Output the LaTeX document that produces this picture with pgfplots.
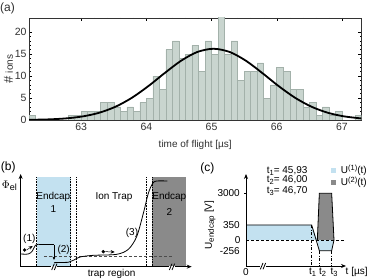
\documentclass[border=0pt]{standalone}
\usepackage{pgfplots}
\pgfplotsset{compat=1.18}
\usepackage{fontspec}
\setmainfont{Liberation Sans}
\usetikzlibrary{arrows.meta}
\definecolor{barfill}{HTML}{C9D5CF}
\definecolor{baredge}{HTML}{A3B1AA}
\definecolor{lblue}{HTML}{C3E1F0}
\definecolor{dgray}{HTML}{8A8A8A}
\definecolor{txt}{HTML}{303030}
\pgfplotsset{panel/.style={scale only axis,hide axis,clip=false,y dir=reverse,xmin=0,ymin=0,ymax=390,anchor=south west,
  every node/.append style={text=txt,font=\fontsize{10}{11}\selectfont,inner sep=0pt}}}
\begin{document}
\begin{tikzpicture}[x=1pt,y=1pt]
\path[use as bounding box] (0pt,0pt) rectangle (370pt,280pt);
\node[anchor=west,inner sep=0pt,text=txt,font=\fontsize{12}{13}\selectfont] at (0pt,272pt) {(a)};
\begin{axis}[at={(29pt,160pt)},anchor=south west,scale only axis,width=332.5pt,height=102pt,
  xmin=62.2,xmax=67.3,ymin=0,ymax=23.2,
  xtick={63,64,65,66,67},ytick={0,5,10,15,20},
  minor x tick num=4,minor y tick num=4,
  tick align=inside,major tick length=3pt,minor tick length=1.5pt,
  tick style={color=black,line width=0.4pt},
  axis line style={color=black!80,line width=0.6pt},
  /pgf/number format/assume math mode=true,
  ticklabel style={font=\fontsize{10.5}{11}\selectfont,text=txt},
  xticklabel shift=0pt,yticklabel shift=-1pt,
  xlabel={time of flight [µs]},ylabel={{\fontsize{13}{13}\selectfont\#} ions},
  label style={font=\fontsize{10}{11}\selectfont,text=txt},
  xlabel shift=2pt,ylabel shift=-5pt]
\addplot[ybar,bar width=0.1,bar shift=0pt,fill=barfill,draw=baredge,line width=0.5pt] coordinates {
(62.25,1)(62.85,1)(62.95,1)(63.05,2)(63.15,2)(63.25,2)(63.35,4)(63.45,4)(63.55,3)(63.65,2)(63.75,3)(63.85,2)(63.95,4)(64.05,5)(64.15,10)(64.25,7)(64.35,16)(64.45,18)(64.55,14)(64.65,15)(64.75,17)(64.85,11)(64.95,18)(65.05,15)(65.15,24)(65.25,15)(65.35,18)(65.45,9)(65.55,11)(65.65,11)(65.75,13)(65.85,5)(65.95,8)(66.05,12)(66.15,11)(66.25,7)(66.35,7)(66.45,3)(66.55,4)(66.65,1)(66.75,3)(66.85,1)(66.95,2)(67.25,1)};
\addplot[black,line width=1.8pt,smooth] coordinates {
(62.2,0.04)(62.28,0.06)(62.53,0.155)(62.78,0.38)(63.03,0.83)(63.28,1.66)(63.53,3.04)(63.78,5.07)(64.03,7.7)(64.28,10.66)(64.53,13.45)(64.78,15.46)(65.03,16.2)(65.28,15.46)(65.53,13.45)(65.78,10.66)(66.03,7.7)(66.28,5.07)(66.53,3.04)(66.78,1.66)(67.03,0.83)(67.28,0.38)(67.3,0.36)};
\end{axis}
% panel b, coordinates in the 3x crop
\begin{axis}[panel,at={(0pt,0pt)},width=190pt,height=130pt,xmax=570]
\addplot[fill=lblue,draw=none] coordinates {(110,82)(212,82)(212,350)(110,350)} -- cycle;
\addplot[fill=dgray,draw=none] coordinates {(457,82)(558,82)(558,350)(457,350)} -- cycle;
\addplot[black,densely dotted,line width=0.6pt] coordinates {(109,82)(109,350)};
\addplot[black,densely dotted,line width=0.6pt] coordinates {(212,82)(212,350)};
\addplot[black,densely dotted,line width=0.6pt] coordinates {(229,82)(229,350)};
\addplot[black,densely dotted,line width=0.6pt] coordinates {(439,82)(439,350)};
\addplot[black,densely dotted,line width=0.6pt] coordinates {(456,82)(456,350)};
\addplot[black!70,densely dashed,line width=0.5pt] coordinates {(132,318)(515,318)};
\addplot[black,line width=0.8pt,smooth] coordinates {(62,312)(85,312)(97,303)(106,286)(116,283)};
\addplot[black,line width=0.8pt] coordinates {(116,283)(162,283)};
\addplot[black,line width=0.8pt] coordinates {(162,338)(205,337)};
\addplot[black,line width=0.8pt,smooth] coordinates {(205,337)(222,330)(240,321)(280,316)(350,313)(385,298)(410,260)(430,190)(445,130)(458,100)(470,93)(502,93)};
\addplot[black,line width=0.6pt,-{Stealth[length=3.5pt,width=3pt]}] coordinates {(162,285)(162,330)};
\addplot[only marks,mark=*,mark size=1.5pt,black] coordinates {(74,300)(310,305)};
\addplot[black,line width=0.5pt,-{Stealth[length=4pt,width=3.5pt]}] coordinates {(80,300)(98,288)};
\addplot[black,line width=0.5pt,-{Stealth[length=4pt,width=3.5pt]}] coordinates {(316,305)(344,306)};
\addplot[black,line width=0.8pt,-{Stealth[length=5pt,width=4pt]}] coordinates {(62,350)(62,72)};
\addplot[black,line width=0.8pt,-{Stealth[length=5pt,width=4pt]}] coordinates {(62,350)(575,350)};
\addplot[white,line width=2pt] coordinates {(154,350)(172,350)};
\addplot[white,line width=2pt] coordinates {(507,350)(525,350)};
\addplot[black,line width=0.8pt] coordinates {(155,360)(163,341)};
\addplot[black,line width=0.8pt] coordinates {(163,360)(171,341)};
\addplot[black,line width=0.8pt] coordinates {(508,360)(516,341)};
\addplot[black,line width=0.8pt] coordinates {(516,360)(524,341)};
\node[font=\fontsize{12}{13}\selectfont] at (axis cs:25,52) {(b)};
\node[font=\fontsize{11}{12}\selectfont] at (axis cs:28,107) {$\Phi$\raisebox{-2pt}{\fontsize{9}{9}\selectfont el}};
\node at (axis cs:160,142) {Endcap};
\node at (axis cs:160,178) {1};
\node at (axis cs:342,142) {Ion Trap};
\node at (axis cs:508,142) {Endcap};
\node at (axis cs:508,185) {2};
\node at (axis cs:88,267) {(1)};
\node at (axis cs:191,300) {(2)};
\node at (axis cs:396,250) {(3)};
\node at (axis cs:335,372) {trap region};
\end{axis}
% panel c, coordinates in the 3x crop
\begin{axis}[panel,at={(190pt,0pt)},width=180pt,height=130pt,xmax=540]
\addplot[fill=lblue,draw=none] coordinates {(168,225)(365,225)(382,270)(168,270)} -- cycle;
\addplot[fill=lblue,draw=none] coordinates {(382,270)(388,302)(425,302)(432,270)} -- cycle;
\addplot[fill=dgray,draw=none] coordinates {(382,270)(388,130)(425,130)(432,270)} -- cycle;
\addplot[black,densely dashed,line width=0.5pt] coordinates {(168,270)(468,270)};
\addplot[black,line width=0.8pt] coordinates {(168,225)(365,225)(388,302)(425,302)(432,270)};
\addplot[black,line width=0.8pt] coordinates {(382,270)(388,130)(425,130)(432,270)};
\addplot[black,dash dot,line width=0.5pt] coordinates {(365,225)(365,348)};
\addplot[black,dash dot,line width=0.5pt] coordinates {(388,302)(388,348)};
\addplot[black,dash dot,line width=0.5pt] coordinates {(425,302)(425,348)};
\addplot[black,line width=0.8pt,-{Stealth[length=5pt,width=4pt]}] coordinates {(168,348)(168,72)};
\addplot[black,line width=0.8pt,-{Stealth[length=5pt,width=4pt]}] coordinates {(168,348)(468,348)};
\addplot[black,line width=0.5pt] coordinates {(162,130)(168,130)};
\addplot[white,line width=2pt] coordinates {(210,348)(228,348)};
\addplot[black,line width=0.8pt] coordinates {(211,358)(219,339)};
\addplot[black,line width=0.8pt] coordinates {(219,358)(227,339)};
\addplot[fill=lblue,draw=none] coordinates {(422,55)(438,55)(438,70)(422,70)} -- cycle;
\addplot[fill=dgray,draw=none] coordinates {(422,90)(438,90)(438,105)(422,105)} -- cycle;
\node[font=\fontsize{12}{13}\selectfont] at (axis cs:52,55) {(c)};
\node[anchor=east] at (axis cs:160,128) {3000};
\node[anchor=east] at (axis cs:160,224) {350};
\node[anchor=east] at (axis cs:162,270) {0};
\node[anchor=east] at (axis cs:160,302) {-256};
\node at (axis cs:168,365) {0};
\node[rotate=90] at (axis cs:60,225) {U\raisebox{-2pt}{\fontsize{8}{8}\selectfont endcap} [V]};
\node[anchor=west] at (axis cs:220,62) {t\raisebox{-2pt}{\fontsize{7.5}{8}\selectfont 1}= 45,93};
\node[anchor=west] at (axis cs:220,91) {t\raisebox{-2pt}{\fontsize{7.5}{8}\selectfont 2}= 46,00};
\node[anchor=west] at (axis cs:220,124) {t\raisebox{-2pt}{\fontsize{7.5}{8}\selectfont 3}= 46,70};
\node[anchor=west] at (axis cs:442,62) {U\raisebox{3pt}{\fontsize{7.5}{8}\selectfont (1)}(t)};
\node[anchor=west] at (axis cs:442,97) {U\raisebox{3pt}{\fontsize{7.5}{8}\selectfont (2)}(t)};
\node at (axis cs:368,366) {t\raisebox{-2pt}{\fontsize{7.5}{8}\selectfont 1}};
\node at (axis cs:398,366) {t\raisebox{-2pt}{\fontsize{7.5}{8}\selectfont 2}};
\node at (axis cs:432,366) {t\raisebox{-2pt}{\fontsize{7.5}{8}\selectfont 3}};
\node at (axis cs:500,366) {t [µs]};
\end{axis}
\end{tikzpicture}
\end{document}
